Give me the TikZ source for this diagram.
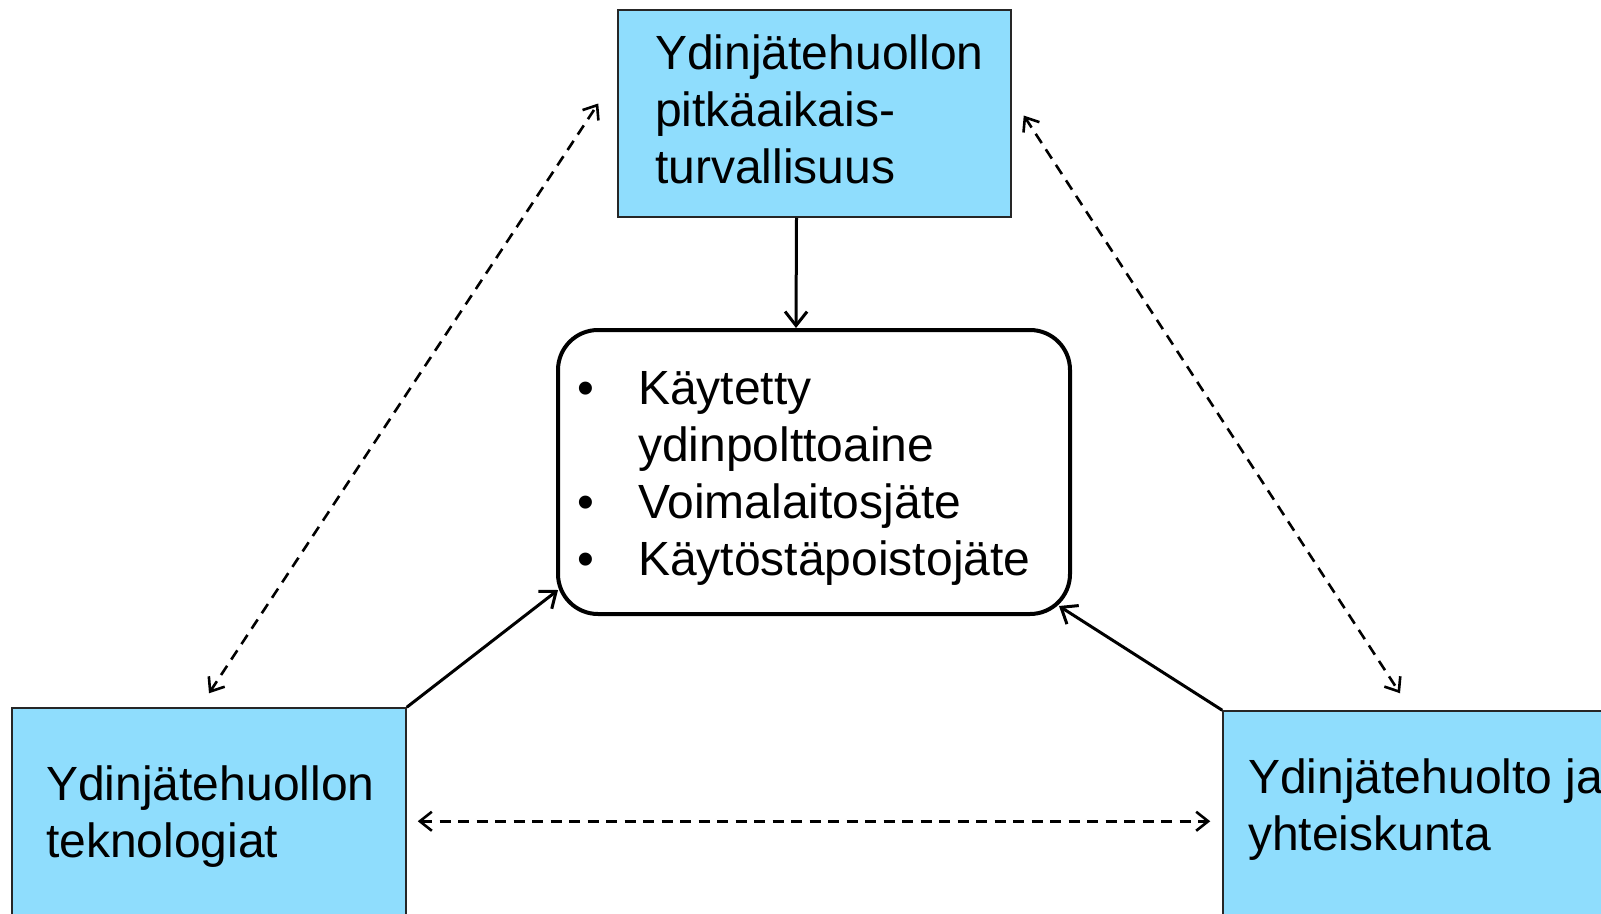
\documentclass[tikz,border=0pt]{standalone}
\usepackage{fontspec}
\setmainfont{Liberation Sans}
\usetikzlibrary{arrows.meta}
\definecolor{boxblue}{RGB}{143,221,253}
\tikzset{
  bluebox/.style={rectangle, draw=black!85, line width=1.5pt, fill=boxblue, inner sep=0pt},
  roundbox/.style={rectangle, draw=black, line width=4pt, rounded corners=40pt, fill=white, inner sep=0pt},
  boxtext/.style={anchor=north west, inner sep=0pt, align=left, font=\fontsize{48}{57}\selectfont},
  solidarrow/.style={line width=3pt, -{Straight Barb[length=14pt,width=22pt]}},
  dasharrow/.style={line width=2.6pt, dash pattern=on 11pt off 7.5pt,
     {Straight Barb[length=12pt,width=19pt]}-{Straight Barb[length=12pt,width=19pt]}},
}
\begin{document}
\begin{tikzpicture}[x=1pt,y=-1pt]
\useasboundingbox (0,0) rectangle (1601,913);
\fill[white] (0,0) rectangle (1601,913);
\clip (0,0) rectangle (1601,913);

% boxes
\node[bluebox, minimum width=393pt, minimum height=207pt] (top) at (814.5,113.5) {};
\node[bluebox, minimum width=394pt, minimum height=220pt] (bl) at (209,818) {};
\node[bluebox, minimum width=394pt, minimum height=220pt] (br) at (1420,821) {};
\node[roundbox, minimum width=512pt, minimum height=284pt] (mid) at (814,472) {};

% texts
\node[boxtext] (toptext) at (655,29.1) {\strut Ydinjätehuollon\\pitkäaikais-\\turvallisuus};
\node[boxtext] (bltext) at (46,760.1) {\strut Ydinjätehuollon\\teknologiat};
\node[boxtext] (brtext) at (1248,753.1) {\strut Ydinjätehuolto ja\\yhteiskunta};
\node[boxtext] (midtext) at (577.5,364.1) {\strut\makebox[60.5pt][l]{\textbullet}Käytetty\\
  \hspace*{60.5pt}ydinpolttoaine\\
  \makebox[60.5pt][l]{\textbullet}Voimalaitosjäte\\
  \makebox[60.5pt][l]{\textbullet}Käytöstäpoistojäte};

% solid arrows
\draw[solidarrow] ([xshift=-18pt]top.south) -- ([xshift=-18pt]mid.north);
\draw[solidarrow] (bl.north east) -- ([shift={(2,-26)}]mid.south west);
\draw[solidarrow] (br.north west) -- ([shift={(-13,-10)}]mid.south east);

% dashed double arrows
\draw[dasharrow] ([shift={(0,-14)}]bl.north) -- ([shift={(-19,-10)}]top.west);
\draw[dasharrow] ([shift={(12,2)}]top.east) -- ([shift={(-20,-17)}]br.north);
\draw[dasharrow] ([shift={(11,114)}]bl.north east) -- ([shift={(-12,111)}]br.north west);
\end{tikzpicture}
\end{document}
